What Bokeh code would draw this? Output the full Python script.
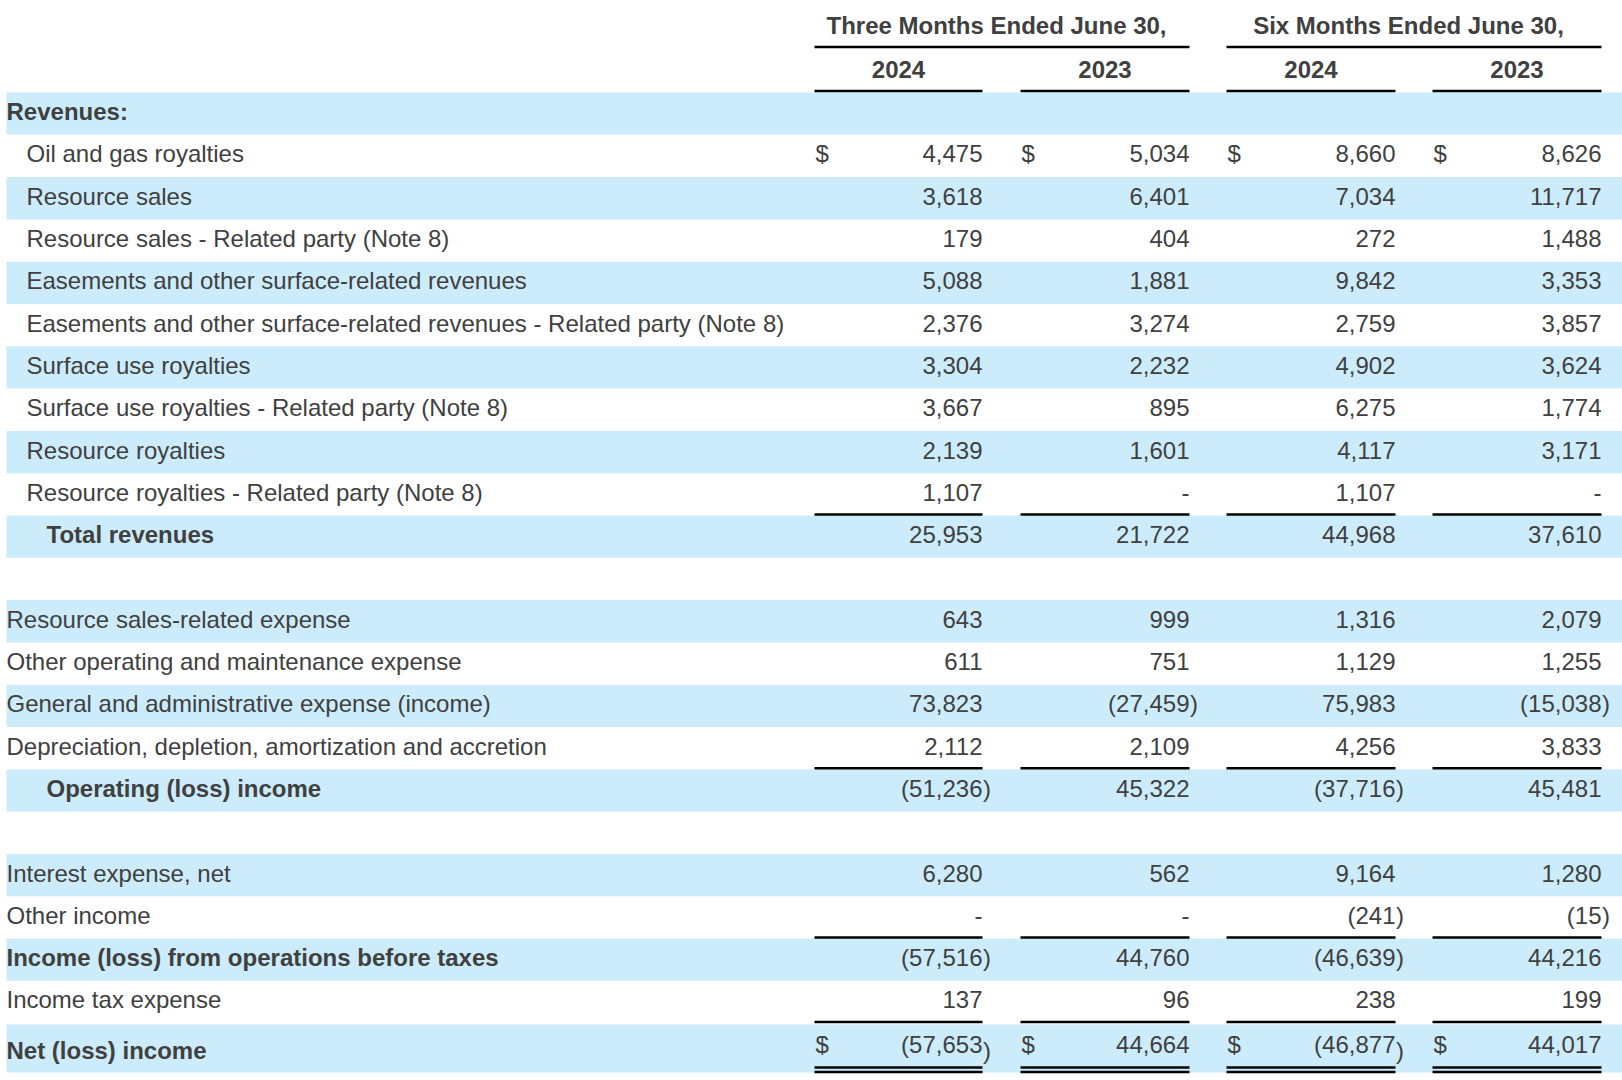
from bokeh.plotting import figure
from bokeh.models import Range1d, ColumnDataSource
from bokeh.core.properties import value
from bokeh.embed import file_html
from bokeh.resources import INLINE

# ---------------- data ----------------
period_headers = ["Three Months Ended June 30,", "Six Months Ended June 30,"]
year_headers = ["2024", "2023", "2024", "2023"]

labels = [
    "Revenues:",
    "Oil and gas royalties",
    "Resource sales",
    "Resource sales - Related party (Note 8)",
    "Easements and other surface-related revenues",
    "Easements and other surface-related revenues - Related party (Note 8)",
    "Surface use royalties",
    "Surface use royalties - Related party (Note 8)",
    "Resource royalties",
    "Resource royalties - Related party (Note 8)",
    "Total revenues",
    "",
    "Resource sales-related expense",
    "Other operating and maintenance expense",
    "General and administrative expense (income)",
    "Depreciation, depletion, amortization and accretion",
    "Operating (loss) income",
    "",
    "Interest expense, net",
    "Other income",
    "Income (loss) from operations before taxes",
    "Income tax expense",
    "Net (loss) income",
]

# 0 means "-" in the statement, None means no value on that row
three_2024 = [None, 4475, 3618, 179, 5088, 2376, 3304, 3667, 2139, 1107, 25953, None,
              643, 611, 73823, 2112, -51236, None, 6280, 0, -57516, 137, -57653]
three_2023 = [None, 5034, 6401, 404, 1881, 3274, 2232, 895, 1601, 0, 21722, None,
              999, 751, -27459, 2109, 45322, None, 562, 0, 44760, 96, 44664]
six_2024 = [None, 8660, 7034, 272, 9842, 2759, 4902, 6275, 4117, 1107, 44968, None,
            1316, 1129, 75983, 4256, -37716, None, 9164, -241, -46639, 238, -46877]
six_2023 = [None, 8626, 11717, 1488, 3353, 3857, 3624, 1774, 3171, 0, 37610, None,
            2079, 1255, -15038, 3833, 45481, None, 1280, -15, 44216, 199, 44017]

# ---------------- styles / layout ----------------
bold_rows = {0, 10, 16, 20, 22}
indent_level = [0, 1, 1, 1, 1, 1, 1, 1, 1, 1, 2, 0, 0, 0, 0, 0, 2, 0, 0, 0, 0, 0, 0]
dollar_rows = {1, 22}
underline_rows = {9, 15, 19, 21}
double_rows = {22}

FONT = value("Liberation Sans")
FS = value("24px")
TXT = "#404040"
BLUE = "#CCECFC"

W, H = 1622, 1080
p = figure(width=W, height=H, output_backend="svg", toolbar_location=None,
           x_range=Range1d(0, W), y_range=Range1d(H, 0),
           min_border=0, outline_line_color=None)
p.xaxis.visible = False
p.yaxis.visible = False
p.grid.visible = False
p.background_fill_color = "white"
p.border_fill_color = "white"

TOP = 92.0
RH = 42.3
nrows = len(labels)
tops = [TOP + RH * i for i in range(nrows)]
bots = [t + RH for t in tops]
tops[-1] = 1024.0
bots[-1] = 1072.0
mids = [(t + b) / 2 for t, b in zip(tops, bots)]

# text centre for labels / numbers per row
label_y = [m - 2 for m in mids]
num_y = [m - 2 for m in mids]
label_y[-1] = mids[-1] + 2
num_y[-1] = mids[-1] - 4.5
paren_y = list(num_y)
paren_y[-1] = mids[-1] + 2

col_left = [814, 1020, 1226, 1432]
col_right = [982, 1189, 1395, 1601]

# bands
band_idx = [i for i in range(nrows) if i % 2 == 0]
p.quad(left=[6] * len(band_idx), right=[1640] * len(band_idx),
       top=[tops[i] for i in band_idx], bottom=[bots[i] for i in band_idx],
       fill_color=BLUE, line_color=None)

# labels
indent_px = [6, 26, 46]
for bold in (False, True):
    idx = [i for i in range(nrows) if (i in bold_rows) == bold and labels[i]]
    src = ColumnDataSource(dict(x=[indent_px[indent_level[i]] for i in idx],
                                y=[label_y[i] for i in idx],
                                t=[labels[i] for i in idx]))
    p.text(x="x", y="y", text="t", source=src, text_font=FONT, text_font_size=FS,
           text_font_style="bold" if bold else "normal", text_color=TXT,
           text_align="left", text_baseline="middle")

# header texts
p.text(x=[996, 1408], y=[25, 25], text=period_headers, text_font=FONT, text_font_size=FS,
       text_font_style="bold", text_color=TXT, text_align="center", text_baseline="middle")
p.text(x=[(l + r) / 2 for l, r in zip(col_left, col_right)], y=[68.5] * 4, text=year_headers,
       text_font=FONT, text_font_size=FS, text_font_style="bold", text_color=TXT,
       text_align="center", text_baseline="middle")

# header lines
p.segment(x0=[col_left[0], col_left[2]], x1=[col_right[1], col_right[3]],
          y0=[46.5, 46.5], y1=[46.5, 46.5], line_color="black", line_width=2.5)
p.segment(x0=col_left, x1=col_right, y0=[90.5] * 4, y1=[90.5] * 4,
          line_color="black", line_width=2.5)


def fmt(v):
    if v == 0:
        return "-"
    if v < 0:
        return "(" + f"{-v:,}"
    return f"{v:,}"


cols = [three_2024, three_2023, six_2024, six_2023]
nx, ny, nt, px_, py_ = [], [], [], [], []
dx, dy = [], []
for c, vals in enumerate(cols):
    for i, v in enumerate(vals):
        if v is None:
            continue
        nx.append(col_right[c])
        ny.append(num_y[i])
        nt.append(fmt(v))
        if v < 0:
            px_.append(col_right[c] + 0.5)
            py_.append(paren_y[i])
        if i in dollar_rows:
            dx.append(col_left[c] + 1)
            dy.append(num_y[i])

p.text(x=nx, y=ny, text=nt, text_font=FONT, text_font_size=FS, text_color=TXT,
       text_align="right", text_baseline="middle")
p.text(x=px_, y=py_, text=[")"] * len(px_), text_font=FONT, text_font_size=FS,
       text_color=TXT, text_align="left", text_baseline="middle")
p.text(x=dx, y=dy, text=["$"] * len(dx), text_font=FONT, text_font_size=FS,
       text_color=TXT, text_align="left", text_baseline="middle")

# underlines
sx0, sx1, sy = [], [], []
for i in sorted(underline_rows):
    for c in range(4):
        sx0.append(col_left[c]); sx1.append(col_right[c]); sy.append(bots[i] - 1)
for i in sorted(double_rows):
    for c in range(4):
        for yy in (1067.0, 1071.5):
            sx0.append(col_left[c]); sx1.append(col_right[c]); sy.append(yy)
p.segment(x0=sx0, x1=sx1, y0=sy, y1=sy, line_color="black", line_width=2.5)

open("out.html", "w").write(file_html(p, INLINE))
